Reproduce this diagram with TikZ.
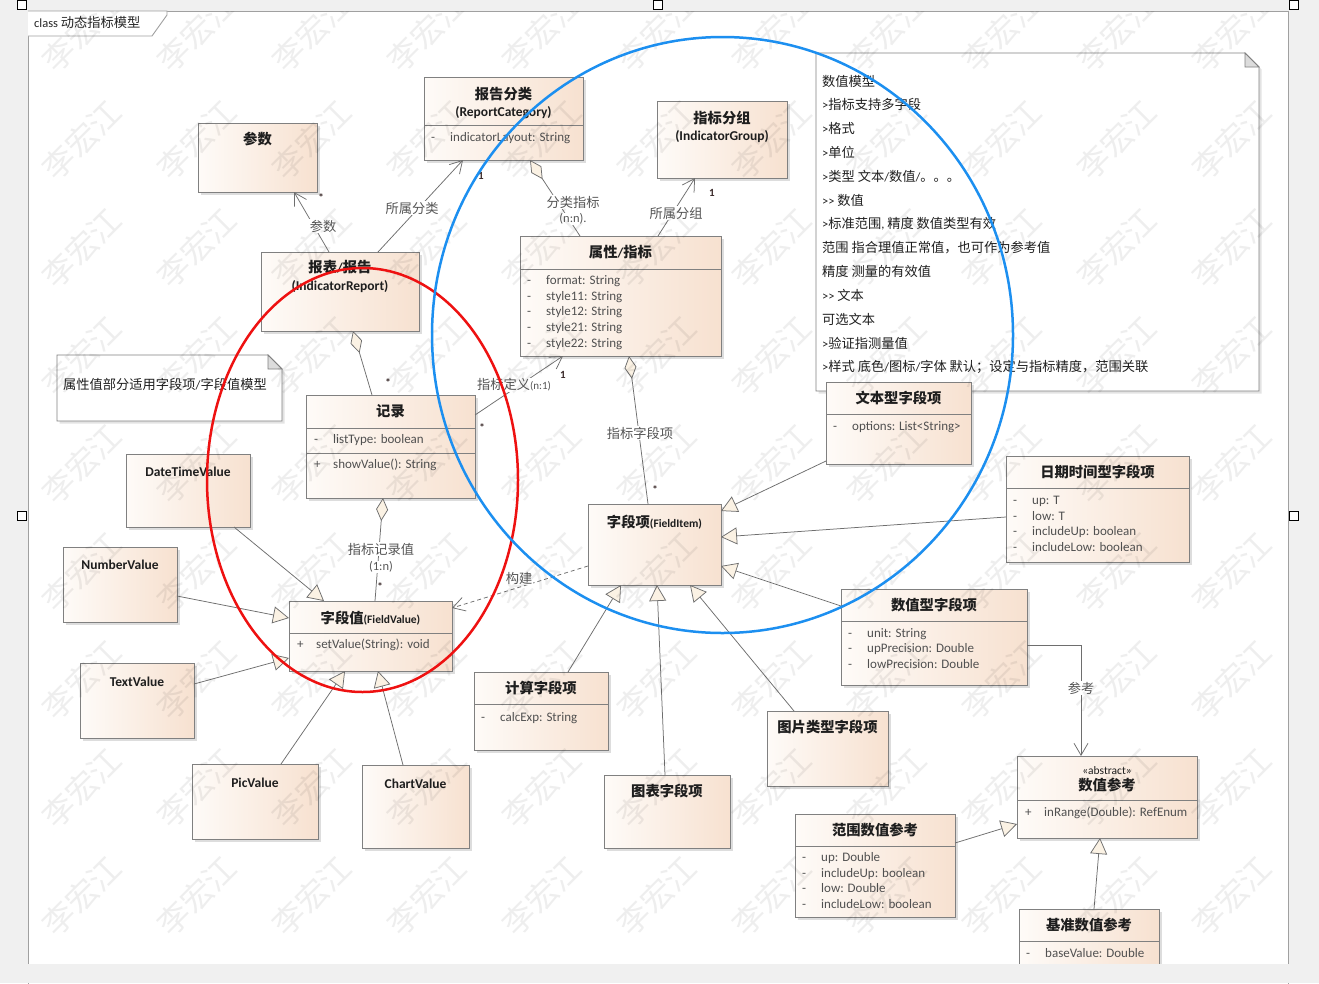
\documentclass[tikz,border=0pt]{standalone}
\usepackage{fontspec}
\setmainfont{Carlito}
\newfontfamily\cjk[Scale=1.06]{Noto Sans CJK SC}
\usetikzlibrary{arrows.meta,shadows,calc}
\XeTeXinterchartokenstate=1
\newXeTeXintercharclass\cjkcls
\newcount\cjkc
\cjkc="4E00
\loop\XeTeXcharclass\cjkc=\cjkcls\ifnum\cjkc<"9FFF\advance\cjkc by 1\repeat
\cjkc="3000
\loop\XeTeXcharclass\cjkc=\cjkcls\ifnum\cjkc<"303F\advance\cjkc by 1\repeat
\cjkc="FF00
\loop\XeTeXcharclass\cjkc=\cjkcls\ifnum\cjkc<"FFEF\advance\cjkc by 1\repeat
\XeTeXinterchartoks 0 \cjkcls={\begingroup\cjk}
\XeTeXinterchartoks 4095 \cjkcls={\begingroup\cjk}
\XeTeXinterchartoks \cjkcls 0={\endgroup}
\XeTeXinterchartoks \cjkcls 4095={\endgroup}
\definecolor{bgc}{HTML}{F0F0F0}
\definecolor{framec}{HTML}{A0A0A0}
\definecolor{boxL}{HTML}{FEFBF8}
\definecolor{boxR}{HTML}{F7E1D0}
\definecolor{bordc}{HTML}{808080}
\definecolor{attrc}{HTML}{505050}
\definecolor{titlec}{HTML}{1E1E1E}
\definecolor{linec}{HTML}{6E6E6E}
\definecolor{tipc}{HTML}{FBF2E4}
\definecolor{lblc}{HTML}{555555}
\definecolor{multc}{HTML}{3A2A2A}
\definecolor{foldc}{HTML}{DCDCDC}
\definecolor{redc}{HTML}{EE1111}
\definecolor{bluec}{HTML}{1C8FF0}
\tikzset{
  clsbox/.style={draw=bordc, line width=0.8pt, left color=boxL, right color=boxR,
    drop shadow={shadow xshift=2.5pt, shadow yshift=-2.5pt, opacity=0.22, fill=black!60},
    inner sep=0pt, outer sep=0pt},
  sepline/.style={draw=bordc, line width=0.8pt},
  notebox/.style={draw=none, inner sep=0pt, outer sep=0pt},
  noteline/.style={draw=bordc, fill=white, line width=0.8pt,
    drop shadow={shadow xshift=2.5pt, shadow yshift=-2.5pt, opacity=0.18, fill=black!60}},
  ttl/.style={font=\fontsize{13.5}{15}\selectfont\bfseries, text=titlec, inner sep=0pt, text height=11pt, text depth=2.5pt},
  stereo/.style={font=\fontsize{11.5}{13}\selectfont, text=titlec, inner sep=0pt},
  attr/.style={font=\fontsize{13}{14}\selectfont, text=attrc, inner sep=0pt, anchor=west, text height=9.5pt, text depth=3pt},
  lbl/.style={font=\fontsize{12.5}{14}\selectfont, text=lblc, fill=white, inner sep=1pt},
  mult/.style={font=\fontsize{11}{12}\selectfont\bfseries, text=multc, inner sep=0.5pt},
  notetxt/.style={font=\fontsize{12.5}{14}\selectfont, text=black!88, inner sep=0pt, anchor=west},
  conn/.style={draw=linec, line width=0.75pt},
  assoc/.style={conn, -{Straight Barb[length=12pt,width=14pt]}},
  gen/.style={conn, -{Triangle[length=16pt,width=17pt,fill=tipc]}},
  aggr/.style={conn, {Diamond[length=23pt,width=12pt,fill=tipc]}-},
  dep/.style={conn, dash pattern=on 4pt off 3pt, -{Straight Barb[length=12pt,width=14pt]}},
  wm/.style={font=\fontsize{30}{30}\selectfont, rotate=45, text=black, opacity=0.065, inner sep=0pt},
  handle/.style={draw=black, fill=white, line width=1.4pt}
}
\newcommand\umlcls[5]{\node[clsbox, minimum width=#4pt, minimum height=#5pt, anchor=north west] (#1) at (#2,#3) {};}
\newcommand\umlsep[2]{\draw[sepline] ($(#1.north west)+(0,#2)$) -- ($(#1.north east)+(0,#2)$);}
\newcommand\umlattr[5]{\node[attr] (#1-s) at (#2,#3) {#4};\node[attr] (#1-t) at (#2+19,#3) {#5};}
\begin{document}
\begin{tikzpicture}[x=1pt,y=-1pt]
\useasboundingbox (0,0) rectangle (1319,983);
\fill[bgc] (0,0) rectangle (1319,983);
% frame
\fill[white] (28,11) rectangle (1288,990);
\draw[framec, line width=0.9pt] (28,990) -- (28,11) -- (1288,11) -- (1288,990);
\draw[framec, line width=0.9pt, fill=white] (28,11) -- (167,11) -- (167,15) -- (152,36) -- (28,36);
\node[font=\fontsize{12.5}{14}\selectfont, text=black!85, anchor=west, inner sep=0pt] (tab) at (34,22.5) {class 动态指标模型};

% notes
\node[notebox, minimum width=443pt, minimum height=338pt, anchor=north west] (note1) at (816,53) {};
\draw[noteline] (note1.north west) -- ($(note1.north east)+(-14,0)$) -- ($(note1.north east)+(0,14)$) -- (note1.south east) -- (note1.south west) -- cycle;
\draw[draw=bordc, fill=foldc, line width=0.8pt] ($(note1.north east)+(-14,0)$) -- ($(note1.north east)+(-14,14)$) -- ($(note1.north east)+(0,14)$) -- cycle;
\foreach \t [count=\i from 0] in {{数值模型},{>指标支持多字段},{>格式},{>单位},{>类型 文本/数值/。。。},{>{}> 数值},{>标准范围, 精度 数值类型有效},{范围 指合理值正常值，也可作为参考值},{精度 测量的有效值},{>{}> 文本},{可选文本},{>验证指测量值},{>样式 底色/图标/字体 默认；设定与指标精度，范围关联}}
  \node[notetxt] (n1-\i) at (822,81+23.83*\i) {\t};

\node[notebox, minimum width=225pt, minimum height=66pt, anchor=north west] (note2) at (57,355) {};
\draw[noteline] (note2.north west) -- ($(note2.north east)+(-14,0)$) -- ($(note2.north east)+(0,14)$) -- (note2.south east) -- (note2.south west) -- cycle;
\draw[draw=bordc, fill=foldc, line width=0.8pt] ($(note2.north east)+(-14,0)$) -- ($(note2.north east)+(-14,14)$) -- ($(note2.north east)+(0,14)$) -- cycle;
\node[notetxt] (n2t) at (63,384) {属性值部分适用字段项/字段值模型};

% classes
\umlcls{param}{198}{123}{119}{69}
\umlcls{report}{261}{252}{158}{79}
\umlcls{rcat}{424}{77}{159}{83}
\umlcls{igroup}{657}{101}{130}{77}
\umlcls{ind}{520}{236}{201}{120}
\umlcls{rec}{306}{395}{169}{103}
\umlcls{dtv}{126}{454}{124}{73}
\umlcls{nv}{63}{547}{114}{75}
\umlcls{fv}{289}{601}{163}{70}
\umlcls{tv}{80}{663}{114}{75}
\umlcls{pv}{192}{764}{126}{75}
\umlcls{cv}{362}{765}{107}{83}
\umlcls{fi}{588}{504}{133}{81}
\umlcls{tfi}{826}{382}{145}{82}
\umlcls{dfi}{1006}{456}{183}{106}
\umlcls{nfi}{841}{589}{186}{96}
\umlcls{cfi}{474}{672}{134}{78}
\umlcls{chfi}{604}{775}{126}{73}
\umlcls{pfi}{767}{711}{121}{75}
\umlcls{rref}{795}{814}{160}{103}
\umlcls{nref}{1017}{756}{180}{82}
\umlcls{bref}{1019}{909}{140}{70}

\umlsep{rcat}{48}
\umlsep{ind}{33}
\umlsep{rec}{33}
\umlsep{rec}{58}
\umlsep{fv}{32}
\umlsep{tfi}{32}
\umlsep{dfi}{32}
\umlsep{nfi}{32}
\umlsep{cfi}{32}
\umlsep{rref}{32}
\umlsep{nref}{44}
\umlsep{bref}{32}

% titles
\node[ttl] (paramT) at (257.5,140) {参数};
\node[ttl] (reportT) at (340,268) {报表/报告};
\node[ttl] (reportT2) at (340,286) {(IndicatorReport)};
\node[ttl] (rcatT) at (503.5,95) {报告分类};
\node[ttl] (rcatT2) at (503.5,112) {(ReportCategory)};
\node[ttl] (igroupT) at (722,119) {指标分组};
\node[ttl] (igroupT2) at (722,136) {(IndicatorGroup)};
\node[ttl] (indT) at (620.5,253) {属性/指标};
\node[ttl] (recT) at (390.5,412) {记录};
\node[ttl] (dtvT) at (188,472) {DateTimeValue};
\node[ttl] (nvT) at (120,565) {NumberValue};
\node[ttl] (fvT) at (370.5,619) {字段值{\fontsize{11.5}{13}\selectfont(FieldValue)}};
\node[ttl] (tvT) at (137,682) {TextValue};
\node[ttl] (pvT) at (255,783) {PicValue};
\node[ttl] (cvT) at (415.5,784) {ChartValue};
\node[ttl] (fiT) at (654.5,523) {字段项{\fontsize{11.5}{13}\selectfont(FieldItem)}};
\node[ttl] (tfiT) at (898.5,399) {文本型字段项};
\node[ttl] (dfiT) at (1097.5,473) {日期时间型字段项};
\node[ttl] (nfiT) at (934,606) {数值型字段项};
\node[ttl] (cfiT) at (541,689) {计算字段项};
\node[ttl] (chfiT) at (667,792) {图表字段项};
\node[ttl] (pfiT) at (827.5,728) {图片类型字段项};
\node[ttl] (rrefT) at (875,831) {范围数值参考};
\node[stereo] (nrefS) at (1107,771) {«abstract»};
\node[ttl] (nrefT) at (1107,786) {数值参考};
\node[ttl] (brefT) at (1089,926) {基准数值参考};

% attributes
\umlattr{rcatA}{431}{138}{-}{indicatorLayout: String}
\umlattr{indA}{527}{281}{-}{format: String}
\umlattr{indB}{527}{297}{-}{style11: String}
\umlattr{indC}{527}{312}{-}{style12: String}
\umlattr{indD}{527}{328}{-}{style21: String}
\umlattr{indE}{527}{344}{-}{style22: String}
\umlattr{recA}{314}{440}{-}{listType: boolean}
\umlattr{recB}{314}{465}{+}{showValue(): String}
\umlattr{fvA}{297}{645}{+}{setValue(String): void}
\umlattr{tfiA}{833}{427}{-}{options: List<String>}
\umlattr{dfiA}{1013}{501}{-}{up: T}
\umlattr{dfiB}{1013}{517}{-}{low: T}
\umlattr{dfiC}{1013}{532}{-}{includeUp: boolean}
\umlattr{dfiD}{1013}{548}{-}{includeLow: boolean}
\umlattr{nfiA}{848}{634}{-}{unit: String}
\umlattr{nfiB}{848}{649}{-}{upPrecision: Double}
\umlattr{nfiC}{848}{665}{-}{lowPrecision: Double}
\umlattr{cfiA}{481}{718}{-}{calcExp: String}
\umlattr{rrefA}{802}{858}{-}{up: Double}
\umlattr{rrefB}{802}{874}{-}{includeUp: boolean}
\umlattr{rrefC}{802}{889}{-}{low: Double}
\umlattr{rrefD}{802}{905}{-}{includeLow: boolean}
\umlattr{nrefA}{1025}{813}{+}{inRange(Double): RefEnum}
\umlattr{brefA}{1026}{954}{-}{baseValue: Double}

% connectors
\draw[assoc] ($(report.north west)+(68,0)$) -- ($(param.south west)+(96,0)$);
\draw[assoc] ($(report.north west)+(117,0)$) -- ($(rcat.south west)+(39,0)$);
\draw[aggr] ($(rcat.south west)+(106,0)$) -- ($(ind.north west)+(60,0)$);
\draw[assoc] ($(ind.north west)+(138,0)$) -- ($(igroup.south west)+(38,0)$);
\draw[assoc] ($(rec.north east)+(0,20)$) -- ($(ind.south west)+(43,0)$);
\draw[aggr] ($(report.south west)+(92,0)$) -- ($(rec.north west)+(66,0)$);
\draw[aggr] ($(rec.south west)+(77,0)$) -- ($(fv.north west)+(86,0)$);
\draw[aggr] ($(ind.south west)+(109,0)$) -- ($(fi.north west)+(60,0)$);
\draw[dep] ($(fi.north west)+(0,62)$) -- ($(fv.north east)+(0,7)$);

\draw[gen] ($(dtv.south west)+(108,0)$) -- ($(fv.north west)+(35,0)$);
\draw[gen] ($(nv.north east)+(0,49)$) -- ($(fv.north west)+(0,17)$);
\draw[gen] ($(tv.north east)+(0,21)$) -- ($(fv.north west)+(0,57)$);
\draw[gen] ($(pv.north west)+(89,0)$) -- ($(fv.south west)+(56,0)$);
\draw[gen] ($(cv.north west)+(41,0)$) -- ($(fv.south west)+(89,0)$);

\draw[gen] ($(tfi.north west)+(0,79)$) -- ($(fi.north east)+(0,7)$);
\draw[gen] ($(dfi.north west)+(0,61)$) -- ($(fi.north east)+(0,33)$);
\draw[gen] ($(nfi.north west)+(0,17)$) -- ($(fi.north east)+(0,62)$);
\draw[gen] ($(cfi.north west)+(94,0)$) -- ($(fi.south west)+(33,0)$);
\draw[gen] ($(chfi.north west)+(61,0)$) -- ($(fi.south west)+(69,0)$);
\draw[gen] ($(pfi.north west)+(27,0)$) -- ($(fi.south west)+(102,0)$);

\draw[assoc] ($(nfi.north east)+(0,56)$) -| ($(nref.north west)+(64,0)$);
\draw[gen] ($(rref.north east)+(0,29)$) -- ($(nref.north west)+(0,68)$);
\draw[gen] ($(bref.north west)+(75,0)$) -- ($(nref.south west)+(83,0)$);

% connector labels
\node[lbl] (l-param) at (323,226) {参数};
\node[lbl] (l-rcat) at (412,208) {所属分类};
\node[lbl] (l-cls1) at (573,202) {分类指标};
\node[lbl] (l-cls2) at (573,219) {(n:n).};
\node[lbl] (l-grp) at (676,213) {所属分组};
\node[lbl] (l-def) at (514,385) {指标定义{\fontsize{11}{13}\selectfont(n:1)}};
\node[lbl] (l-rv1) at (381,549) {指标记录值};
\node[lbl] (l-rv2) at (381,567) {(1:n)};
\node[lbl] (l-fld) at (640,433) {指标字段项};
\node[lbl] (l-bld) at (519,578) {构建};
\node[lbl] (l-ref) at (1081,688) {参考};

% multiplicities
\node[mult] (m1) at (321,198) {*};
\node[mult] (m2) at (481,176) {1};
\node[mult] (m3) at (712,193) {1};
\node[mult] (m4) at (563,375) {1};
\node[mult] (m5) at (482,428) {*};
\node[mult] (m6) at (388,383) {*};
\node[mult] (m7) at (380,587) {*};
\node[mult] (m8) at (655,490) {*};

% watermarks
\begin{scope}
\clip (28,11) rectangle (1288,965);
\foreach \i in {0,...,10}{
  \foreach \j in {0,...,9}{
    \node[wm] (wm-\i-\j) at (82+115*\i,32+108*\j) {李宏江};
  }
}
\end{scope}

% highlight ellipses
\draw[redc, line width=2.5pt] (362.5,480) ellipse [x radius=155.5, y radius=212];
\draw[bluec, line width=2.5pt] (722.5,335) ellipse [x radius=290.5, y radius=298];

% bottom band and handles
\fill[bgc] (0,964) rectangle (1319,983);
\draw[handle] (17.5,0.5) rectangle (26.5,9.5);
\draw[handle] (653.5,0.5) rectangle (662.5,9.5);
\draw[handle] (1289.5,0.5) rectangle (1298.5,9.5);
\draw[handle] (17.5,511.5) rectangle (26.5,520.5);
\draw[handle] (1289.5,511.5) rectangle (1298.5,520.5);
\end{tikzpicture}
\end{document}
